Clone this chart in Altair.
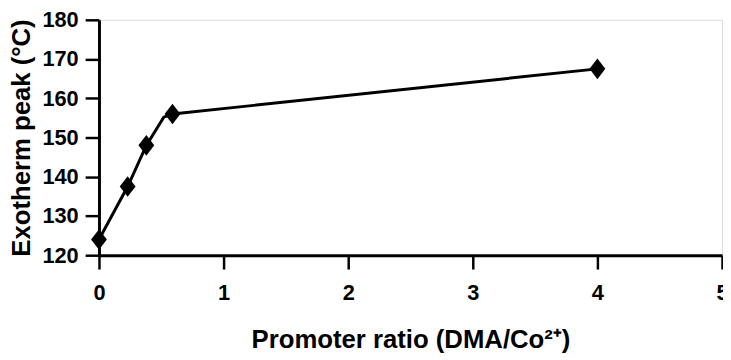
import altair as alt
import pandas as pd

# marker data
ratio = [0, 0.23, 0.38, 0.59, 4]
peak = [124, 137.5, 148, 156, 167.5]

# polyline vertices (includes the bend visible between 0.38 and 0.59)
line_ratio = [0, 0.23, 0.38, 0.52, 0.59, 4]
line_peak = [124, 137.5, 148, 155.2, 156, 167.5]

x_ticks = [0, 1, 2, 3, 4, 5]
y_ticks = [120, 130, 140, 150, 160, 170, 180]

pts = pd.DataFrame({"ratio": ratio, "peak": peak})
ln = pd.DataFrame({"ratio": line_ratio, "peak": line_peak, "order": list(range(len(line_ratio)))})

FONT = "Liberation Sans"

x_enc = alt.X(
    "ratio:Q",
    scale=alt.Scale(domain=[0, 5], nice=False, zero=False),
    axis=alt.Axis(
        values=x_ticks, title="Promoter ratio (DMA/Co²⁺)", format="d",
        tickSize=14, tickWidth=2.5, tickColor="black",
        domainColor="black", domainWidth=3,
        labelFont=FONT, labelFontSize=22, labelFontWeight="bold", labelColor="black",
        labelPadding=14, labelFlush=False, labelOverlap=False,
        titleFont=FONT, titleFontSize=26, titleFontWeight="bold", titleColor="black",
        titlePadding=23, grid=False,
    ),
)
y_enc = alt.Y(
    "peak:Q",
    scale=alt.Scale(domain=[120, 180], nice=False, zero=False),
    axis=alt.Axis(
        values=y_ticks, title="Exotherm peak (°C)", tickCount=7,
        tickSize=14, tickWidth=2.5, tickColor="black",
        domainColor="black", domainWidth=3,
        labelFont=FONT, labelFontSize=22, labelFontWeight="bold", labelColor="black",
        labelPadding=7, labelFlush=False, labelOverlap=False,
        titleFont=FONT, titleFontSize=26, titleFontWeight="bold", titleColor="black",
        titlePadding=8, grid=False,
    ),
)

line = alt.Chart(ln).mark_line(color="black", strokeWidth=3).encode(
    x=x_enc, y=y_enc, order="order:Q"
)
marks = alt.Chart(pts).mark_point(
    shape="M0,-1.3L1,0L0,1.3L-1,0Z", filled=True, color="black", opacity=1, size=256
).encode(x=x_enc, y=y_enc)

chart = (
    alt.layer(line, marks)
    .properties(
        width=630, height=238,
        autosize=alt.AutoSizeParams(type="none"),
        padding={"left": 92, "top": 10, "right": 1, "bottom": 104},
    )
    .configure_view(stroke="#444444", strokeWidth=2.5)
    .configure(background="white")
)

chart.save("out.html", embed_options={"renderer": "svg", "actions": False})
